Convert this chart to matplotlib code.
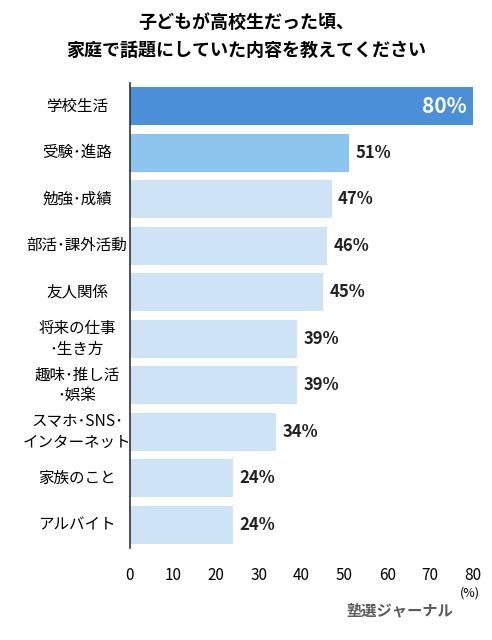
import matplotlib
matplotlib.use("Agg")
import matplotlib.pyplot as plt

plt.rcParams['font.family'] = ['Noto Sans CJK JP', 'DejaVu Sans']

title = "子どもが高校生だった頃、\n家庭で話題にしていた内容を教えてください"
categories = ["学校生活", "受験･進路", "勉強･成績", "部活･課外活動", "友人関係",
              "将来の仕事\n･生き方", "趣味･推し活\n･娯楽", "スマホ･SNS･\nインターネット",
              "家族のこと", "アルバイト"]
values = [80, 51, 47, 46, 45, 39, 39, 34, 24, 24]
colors = ["#4a8fd8", "#8cc6ef"] + ["#cfe3f6"] * 8
xticks = [0, 10, 20, 30, 40, 50, 60, 70, 80]

fig = plt.figure(figsize=(4.92, 6.40), dpi=100)
ax = fig.add_axes([130/492, 1-548/640, 343/492, 465/640])
y = list(range(len(values)))
ax.barh(y, values, height=0.82, color=colors)
ax.set_ylim(len(values)-0.5, -0.5)
ax.set_xlim(0, 80)
ax.set_xticks(xticks)
ax.tick_params(axis='x', length=0, labelsize=11, pad=14)
ax.set_yticks([])
for s in ["top", "right", "bottom"]:
    ax.spines[s].set_visible(False)
ax.spines["left"].set_color("#333333")
ax.spines["left"].set_linewidth(1.2)

for i, (v, c) in enumerate(zip(values, categories)):
    ax.text(-53/343*80, i, c, ha="center", va="center", fontsize=11.2, linespacing=1.3)
    if i == 0:
        ax.text(v - 1.5, i, f"{v}%", ha="right", va="center", fontsize=15,
                fontweight="bold", color="white")
    else:
        ax.text(v + 1.5, i, f"{v}%", ha="left", va="center", fontsize=12,
                fontweight="bold", color="#222222")

fig.text(0.5, 1-36/640, title, ha="center", va="center", fontsize=13,
         fontweight="bold", linespacing=1.6)
fig.text(470/492, 1-593/640, "(%)", ha="center", va="center", fontsize=9)
fig.text(400/492, 1-610/640, "塾選ジャーナル", ha="center", va="center", fontsize=11,
         fontweight="bold", color="#333333", alpha=0.8)
fig.savefig("out.png", dpi=100)
